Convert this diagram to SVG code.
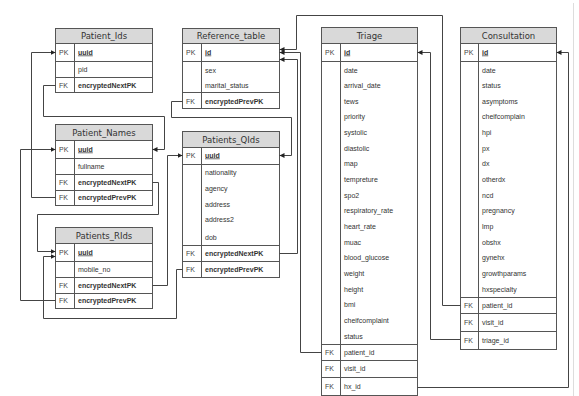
<svg xmlns="http://www.w3.org/2000/svg" width="579" height="396" viewBox="0 0 579 396">
<defs>
<style>
.box{fill:#fff;stroke:#555;stroke-width:1}
.hdr{fill:#d9d9d9;stroke:#555;stroke-width:1}
.ln{stroke:#555;stroke-width:1}
.t{font-family:"DejaVu Sans",sans-serif;font-size:8.5px;fill:#333;text-anchor:middle}
.k{font-family:"Liberation Sans",Arial,sans-serif;font-size:7px;fill:#444}
.f{font-family:"Liberation Sans",Arial,sans-serif;font-size:7px;fill:#333}
.b{font-weight:bold}
.u{text-decoration:underline}
.conn{fill:none;stroke:#444;stroke-width:1;marker-end:url(#arr)}
</style>
<marker id="arr" markerWidth="6" markerHeight="6" refX="5" refY="3" orient="auto" markerUnits="userSpaceOnUse"><path d="M0,0.5 L5,3 L0,5.5 z" fill="#222"/></marker>
</defs>
<rect width="579" height="396" fill="#fff"/>
<line x1="573.5" y1="3" x2="573.5" y2="396" stroke="#ddd"/>

<g id="Patient_Ids">
<rect class="box" x="55.5" y="28.5" width="97" height="64"/>
<rect class="hdr" x="55.5" y="28.5" width="97" height="15"/>
<line class="ln" x1="55.5" y1="61.5" x2="152.5" y2="61.5"/>
<line class="ln" x1="55.5" y1="77.5" x2="152.5" y2="77.5"/>
<line class="ln" x1="74.5" y1="43.5" x2="74.5" y2="92.5"/>
<text class="t" x="104" y="39">Patient_Ids</text>
<text class="k" x="59" y="54.5">PK</text><text class="f b u" x="78" y="54.5">uuid</text>
<text class="f" x="78" y="71.5">pid</text>
<text class="k" x="59" y="87.5">FK</text><text class="f b" x="78" y="87.5">encryptedNextPK</text>
</g>

<g id="Reference_table">
<rect class="box" x="182.5" y="28.5" width="97" height="80"/>
<rect class="hdr" x="182.5" y="28.5" width="97" height="15"/>
<line class="ln" x1="182.5" y1="61.5" x2="279.5" y2="61.5"/>
<line class="ln" x1="182.5" y1="92.5" x2="279.5" y2="92.5"/>
<line class="ln" x1="201.5" y1="43.5" x2="201.5" y2="108.5"/>
<text class="t" x="231" y="39">Reference_table</text>
<text class="k" x="186" y="54.5">PK</text><text class="f b u" x="205" y="54.5">id</text>
<text class="f" x="205" y="72.5">sex</text>
<text class="f" x="205" y="87.5">marital_status</text>
<text class="k" x="186" y="103.5">FK</text><text class="f b" x="205" y="103.5">encryptedPrevPK</text>
</g>

<g id="Patient_Names">
<rect class="box" x="55.5" y="124.5" width="97" height="81"/>
<rect class="hdr" x="55.5" y="124.5" width="97" height="16"/>
<line class="ln" x1="55.5" y1="158.5" x2="152.5" y2="158.5"/>
<line class="ln" x1="55.5" y1="174.5" x2="152.5" y2="174.5"/>
<line class="ln" x1="55.5" y1="190.5" x2="152.5" y2="190.5"/>
<line class="ln" x1="74.5" y1="140.5" x2="74.5" y2="205.5"/>
<text class="t" x="104" y="135.5">Patient_Names</text>
<text class="k" x="59" y="151.5">PK</text><text class="f b u" x="78" y="151.5">uuid</text>
<text class="f" x="78" y="168.5">fullname</text>
<text class="k" x="59" y="184.5">FK</text><text class="f b" x="78" y="184.5">encryptedNextPK</text>
<text class="k" x="59" y="199.5">FK</text><text class="f b" x="78" y="199.5">encryptedPrevPK</text>
</g>

<g id="Patients_QIds">
<rect class="box" x="182.5" y="131.5" width="97" height="146"/>
<rect class="hdr" x="182.5" y="131.5" width="97" height="16"/>
<line class="ln" x1="182.5" y1="164.5" x2="279.5" y2="164.5"/>
<line class="ln" x1="182.5" y1="245.5" x2="279.5" y2="245.5"/>
<line class="ln" x1="182.5" y1="261.5" x2="279.5" y2="261.5"/>
<line class="ln" x1="201.5" y1="147.5" x2="201.5" y2="277.5"/>
<text class="t" x="231" y="142.5">Patients_QIds</text>
<text class="k" x="186" y="157.5">PK</text><text class="f b u" x="205" y="157.5">uuid</text>
<text class="f" x="205" y="174.5">nationality</text>
<text class="f" x="205" y="190.5">agency</text>
<text class="f" x="205" y="206.5">address</text>
<text class="f" x="205" y="222">address2</text>
<text class="f" x="205" y="239.5">dob</text>
<text class="k" x="186" y="255.5">FK</text><text class="f b" x="205" y="255.5">encryptedNextPK</text>
<text class="k" x="186" y="271.5">FK</text><text class="f b" x="205" y="271.5">encryptedPrevPK</text>
</g>

<g id="Patients_RIds">
<rect class="box" x="55.5" y="227.5" width="97" height="81"/>
<rect class="hdr" x="55.5" y="227.5" width="97" height="16"/>
<line class="ln" x1="55.5" y1="261.5" x2="152.5" y2="261.5"/>
<line class="ln" x1="55.5" y1="277.5" x2="152.5" y2="277.5"/>
<line class="ln" x1="55.5" y1="293.5" x2="152.5" y2="293.5"/>
<line class="ln" x1="74.5" y1="243.5" x2="74.5" y2="308.5"/>
<text class="t" x="104" y="238.5">Patients_RIds</text>
<text class="k" x="59" y="254.5">PK</text><text class="f b u" x="78" y="254.5">uuid</text>
<text class="f" x="78" y="271.5">mobile_no</text>
<text class="k" x="59" y="287.5">FK</text><text class="f b" x="78" y="287.5">encryptedNextPK</text>
<text class="k" x="59" y="302.5">FK</text><text class="f b" x="78" y="302.5">encryptedPrevPK</text>
</g>

<g id="Triage">
<rect class="box" x="321.5" y="27.5" width="96" height="368"/>
<rect class="hdr" x="321.5" y="27.5" width="96" height="16"/>
<line class="ln" x1="321.5" y1="61.5" x2="417.5" y2="61.5"/>
<line class="ln" x1="321.5" y1="344.5" x2="417.5" y2="344.5"/>
<line class="ln" x1="321.5" y1="360.5" x2="417.5" y2="360.5"/>
<line class="ln" x1="321.5" y1="377.5" x2="417.5" y2="377.5"/>
<line class="ln" x1="340.5" y1="43.5" x2="340.5" y2="395.5"/>
<text class="t" x="369.5" y="38.5">Triage</text>
<text class="k" x="325" y="54.5">PK</text><text class="f b u" x="344" y="54.5">id</text>
<text class="f" x="344" y="72.5">date</text>
<text class="f" x="344" y="88.15">arrival_date</text>
<text class="f" x="344" y="103.8">tews</text>
<text class="f" x="344" y="119.45">priority</text>
<text class="f" x="344" y="135.1">systolic</text>
<text class="f" x="344" y="150.75">diastolic</text>
<text class="f" x="344" y="166.4">map</text>
<text class="f" x="344" y="182.05">tempreture</text>
<text class="f" x="344" y="197.7">spo2</text>
<text class="f" x="344" y="213.35">respiratory_rate</text>
<text class="f" x="344" y="229">heart_rate</text>
<text class="f" x="344" y="244.65">muac</text>
<text class="f" x="344" y="260.3">blood_glucose</text>
<text class="f" x="344" y="275.95">weight</text>
<text class="f" x="344" y="291.6">height</text>
<text class="f" x="344" y="307.25">bmi</text>
<text class="f" x="344" y="322.9">cheifcomplaint</text>
<text class="f" x="344" y="338.55">status</text>
<text class="k" x="325" y="354.5">FK</text><text class="f" x="344" y="354.5">patient_id</text>
<text class="k" x="325" y="371">FK</text><text class="f" x="344" y="371">visit_id</text>
<text class="k" x="325" y="389">FK</text><text class="f" x="344" y="389">hx_id</text>
</g>

<g id="Consultation">
<rect class="box" x="460.5" y="27.5" width="96" height="322"/>
<rect class="hdr" x="460.5" y="27.5" width="96" height="16"/>
<line class="ln" x1="460.5" y1="61.5" x2="556.5" y2="61.5"/>
<line class="ln" x1="460.5" y1="297.5" x2="556.5" y2="297.5"/>
<line class="ln" x1="460.5" y1="313.5" x2="556.5" y2="313.5"/>
<line class="ln" x1="460.5" y1="331.5" x2="556.5" y2="331.5"/>
<line class="ln" x1="478.5" y1="43.5" x2="478.5" y2="349.5"/>
<text class="t" x="508.5" y="38.5">Consultation</text>
<text class="k" x="464" y="54.5">PK</text><text class="f b u" x="482" y="54.5">id</text>
<text class="f" x="482" y="72.5">date</text>
<text class="f" x="482" y="88.15">status</text>
<text class="f" x="482" y="103.8">asymptoms</text>
<text class="f" x="482" y="119.45">cheifcomplain</text>
<text class="f" x="482" y="135.1">hpi</text>
<text class="f" x="482" y="150.75">px</text>
<text class="f" x="482" y="166.4">dx</text>
<text class="f" x="482" y="182.05">otherdx</text>
<text class="f" x="482" y="197.7">ncd</text>
<text class="f" x="482" y="213.35">pregnancy</text>
<text class="f" x="482" y="229">lmp</text>
<text class="f" x="482" y="244.65">obshx</text>
<text class="f" x="482" y="260.3">gynehx</text>
<text class="f" x="482" y="275.95">growthparams</text>
<text class="f" x="482" y="291.6">hxspecialty</text>
<text class="k" x="464" y="307.5">FK</text><text class="f" x="482" y="307.5">patient_id</text>
<text class="k" x="464" y="324.5">FK</text><text class="f" x="482" y="324.5">visit_id</text>
<text class="k" x="464" y="342.5">FK</text><text class="f" x="482" y="342.5">triage_id</text>
</g>

<g id="connectors">
<path class="conn" d="M55.5,85.5 H43.5 V116.5 H164.5 V149.5 H152.5"/>
<path class="conn" d="M55.5,197.5 H31.5 V52.5 H55.5"/>
<path class="conn" d="M55.5,300.5 H20.5 V149.5 H55.5"/>
<path class="conn" d="M152.5,182.5 H158.5 V214.5 H37.5 V251.5 H55.5"/>
<path class="conn" d="M182.5,269.5 H176.5 V318.5 H43.5 V256.5 H55.5"/>
<path class="conn" d="M152.5,285.5 H167.5 V155.5 H182.5"/>
<path class="conn" d="M182.5,101.5 H171.5 V117.5 H291.5 V155.5 H279.5"/>
<path class="conn" d="M279.5,253.5 H297.5 V59.5 H279.5"/>
<path class="conn" d="M321.5,352.5 H300.5 V52.5 H279.5"/>
<path class="conn" d="M460.5,305.5 H442.5 V15.5 H296.5 V49.5 H279.5"/>
<path class="conn" d="M460.5,339.5 H430.5 V52.5 H417.5"/>
<path class="conn" d="M417.5,387.5 H568.5 V52.5 H556.5"/>
</g>
</svg>
